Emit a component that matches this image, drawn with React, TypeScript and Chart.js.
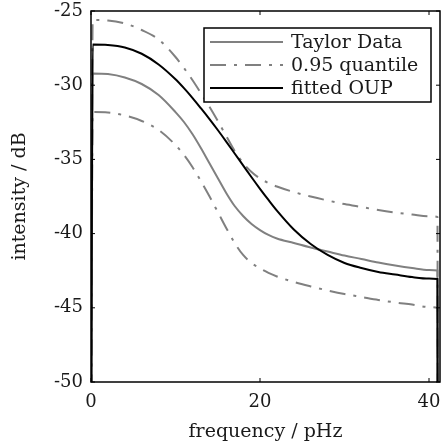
import React, { useEffect, useRef } from "react";
import { Chart, registerables } from "chart.js";
Chart.register(...registerables);

const frequency = [0, 0.2, 2, 4, 6, 8, 10, 11, 12, 13, 14, 15, 16, 17, 18, 19, 20, 21, 22, 24, 26, 28, 30, 32, 34, 36, 38, 40, 41, 41.05];
const taylorData = [-60, -29.21, -29.25, -29.48, -29.92, -30.66, -31.81, -32.48, -33.29, -34.23, -35.24, -36.25, -37.26, -38.14, -38.81, -39.35, -39.76, -40.09, -40.33, -40.63, -40.94, -41.21, -41.48, -41.71, -41.95, -42.15, -42.32, -42.45, -42.49, -70];
const quantileUpper = [-60, -25.61, -25.64, -25.84, -26.28, -26.92, -28.1, -28.84, -29.65, -30.53, -31.44, -32.41, -33.42, -34.43, -35.24, -35.85, -36.29, -36.59, -36.83, -37.2, -37.5, -37.77, -38.01, -38.21, -38.41, -38.58, -38.71, -38.83, -38.88, -70];
const quantileLower = [-60, -31.81, -31.84, -32.04, -32.41, -33.02, -34.03, -34.7, -35.51, -36.46, -37.47, -38.54, -39.62, -40.63, -41.44, -41.98, -42.35, -42.65, -42.89, -43.26, -43.56, -43.83, -44.07, -44.27, -44.47, -44.64, -44.78, -44.95, -45.01, -70];
const fittedOUP = [-60, -27.26, -27.29, -27.46, -27.88, -28.6, -29.6, -30.2, -30.85, -31.55, -32.27, -33.02, -33.8, -34.6, -35.4, -36.2, -36.98, -37.73, -38.45, -39.72, -40.7, -41.44, -41.98, -42.32, -42.59, -42.76, -42.93, -43.03, -43.06, -70];

const xTicks = [0, 20, 40];
const yTicks = [-50, -45, -40, -35, -30, -25];
const legendLabels = ["Taylor Data", "0.95 quantile", "fitted OUP"];
const xTitle = "frequency / pHz";
const yTitle = "intensity / dB";

const GRAY = "#808080";
const DASH = [16, 8, 3, 8];
const FONT = "'DejaVu Serif', serif";

const pts = (ys: number[]) => frequency.map((x, i) => ({ x, y: ys[i] }));

const framePlugin = {
  id: "frameAndLegend",
  afterDatasetsDraw(chart: any) {
    const { ctx, chartArea: a, scales } = chart;
    ctx.save();
    ctx.strokeStyle = "#000";
    ctx.lineWidth = 1.5;
    ctx.setLineDash([]);
    ctx.strokeRect(a.left, a.top, a.right - a.left, a.bottom - a.top);
    ctx.lineWidth = 1;
    const line = (x1: number, y1: number, x2: number, y2: number) => {
      ctx.beginPath();
      ctx.moveTo(x1, y1);
      ctx.lineTo(x2, y2);
      ctx.stroke();
    };
    for (const v of xTicks) {
      const px = scales.x.getPixelForValue(v);
      line(px, a.bottom, px, a.bottom - 4);
      line(px, a.top, px, a.top + 4);
    }
    for (const v of yTicks) {
      const py = scales.y.getPixelForValue(v);
      line(a.left, py, a.left + 4, py);
      line(a.right, py, a.right - 4, py);
    }
    // legend
    const lx = 204, ly = 28, lw = 227, lh = 74;
    ctx.fillStyle = "#fff";
    ctx.fillRect(lx, ly, lw, lh);
    ctx.lineWidth = 1.5;
    ctx.strokeStyle = "#000";
    ctx.strokeRect(lx, ly, lw, lh);
    const styles = [
      { color: GRAY, dash: [] as number[] },
      { color: GRAY, dash: DASH },
      { color: "#000", dash: [] as number[] },
    ];
    const rows = [42, 65, 88];
    ctx.font = `19px ${FONT}`;
    ctx.textBaseline = "middle";
    ctx.textAlign = "left";
    legendLabels.forEach((t, i) => {
      ctx.strokeStyle = styles[i].color;
      ctx.lineWidth = 2;
      ctx.setLineDash(styles[i].dash);
      line(210, rows[i], 283, rows[i]);
      ctx.setLineDash([]);
      ctx.fillStyle = "#1a1a1a";
      ctx.fillText(t, 291, rows[i] + 1);
    });
    ctx.restore();
  },
};

export default function App() {
  const ref = useRef<HTMLCanvasElement>(null);
  useEffect(() => {
    document.body.style.margin = "0";
    const chart = new Chart(ref.current!, {
      type: "line",
      data: {
        datasets: [
          { label: legendLabels[2], data: pts(fittedOUP), borderColor: "#000", borderWidth: 2, order: 0 },
          { label: legendLabels[0], data: pts(taylorData), borderColor: GRAY, borderWidth: 2, order: 1 },
          { label: legendLabels[1], data: pts(quantileUpper), borderColor: GRAY, borderWidth: 2, borderDash: DASH, order: 2 },
          { label: legendLabels[1], data: pts(quantileLower), borderColor: GRAY, borderWidth: 2, borderDash: DASH, order: 3 },
        ].map((d) => ({ ...d, pointRadius: 0, fill: false, cubicInterpolationMode: "monotone" as const })),
      },
      options: {
        animation: false,
        responsive: false,
        layout: { padding: { left: 0, right: 1, top: 11, bottom: 0 } },
        plugins: { legend: { display: false }, tooltip: { enabled: false } },
        scales: {
          x: {
            type: "linear",
            min: 0,
            max: 41.3,
            grid: { display: false, drawTicks: false },
            border: { display: false },
            afterBuildTicks: (s: any) => { s.ticks = xTicks.map((value) => ({ value })); },
            afterFit: (s: any) => { s.height = 65; s.paddingLeft = 0; s.paddingRight = 0; },
            ticks: { padding: 10, font: { size: 18, family: FONT }, color: "#1a1a1a", maxRotation: 0, callback: (v: any) => String(v) },
            title: { display: true, text: xTitle, font: { size: 19, family: FONT }, color: "#1a1a1a", padding: { top: 0, bottom: 4 } },
          },
          y: {
            type: "linear",
            min: -50,
            max: -25,
            grid: { display: false, drawTicks: false },
            border: { display: false },
            afterBuildTicks: (s: any) => { s.ticks = yTicks.map((value) => ({ value })); },
            afterFit: (s: any) => { s.width = 91; s.paddingTop = 0; s.paddingBottom = 0; },
            ticks: { padding: 8, font: { size: 18, family: FONT }, color: "#1a1a1a", callback: (v: any) => String(v) },
            title: { display: true, text: yTitle, font: { size: 19, family: FONT }, color: "#1a1a1a", padding: { top: 9, bottom: 0 } },
          },
        },
      },
      plugins: [framePlugin],
    });
    return () => chart.destroy();
  }, []);
  return (
    <div style={{ width: 441, height: 447 }}>
      <canvas ref={ref} width={441} height={447} style={{ display: "block" }} />
    </div>
  );
}
